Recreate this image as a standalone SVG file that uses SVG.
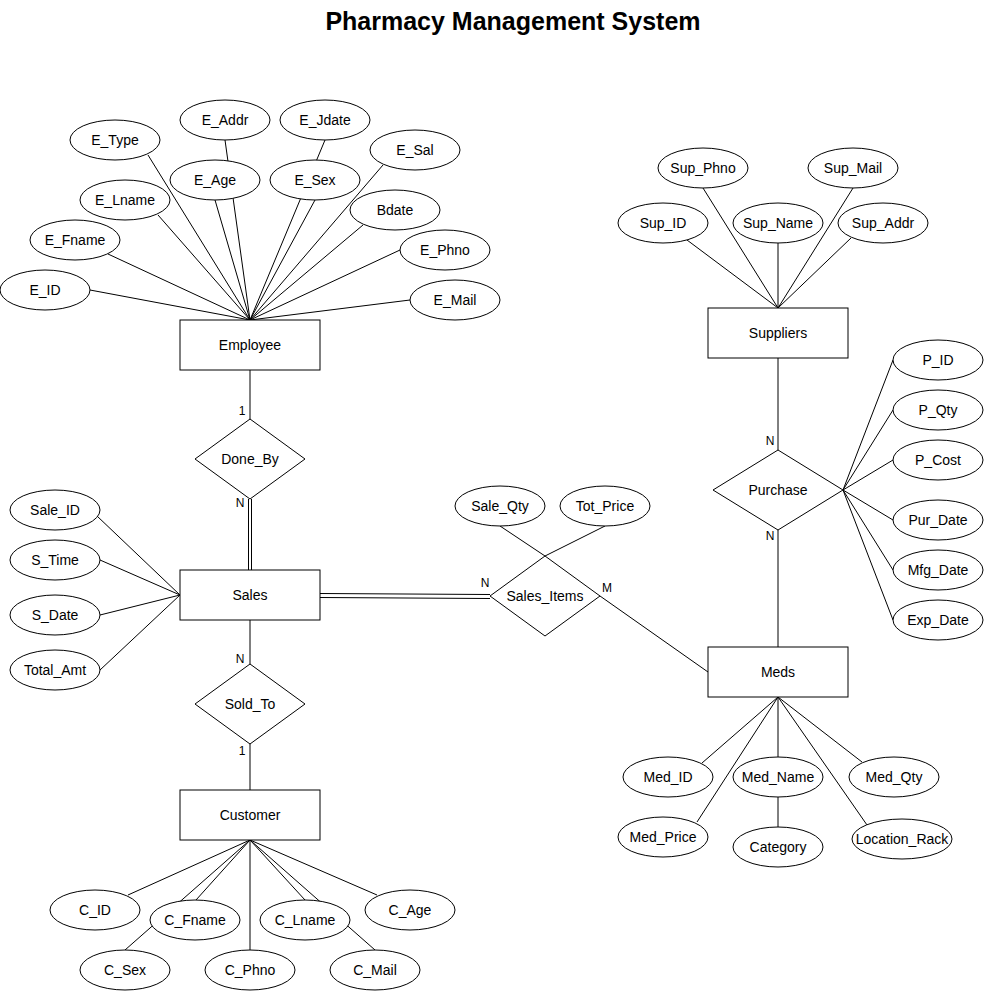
<svg xmlns="http://www.w3.org/2000/svg" width="984" height="991" viewBox="0 0 984 991">
<style>
text{font-family:"Liberation Sans",Arial,sans-serif;font-size:14px;fill:#000;text-anchor:middle}
.t{font-size:25px;font-weight:bold}
.c{font-size:12px}
.e,.r,.d{fill:#fff;stroke:#000;stroke-width:1}
#connectors line,#connectors polyline{stroke:#000;stroke-width:1;fill:none}
</style>
<rect width="984" height="991" fill="#fff"/>
<text class="t" x="513" y="30">Pharmacy Management System</text>
<g id="connectors">
<line x1="250" y1="320" x2="148" y2="155"/>
<line x1="250" y1="320" x2="225" y2="140"/>
<line x1="250" y1="320" x2="215" y2="200"/>
<line x1="250" y1="320" x2="325" y2="140"/>
<line x1="250" y1="320" x2="315" y2="200"/>
<line x1="250" y1="320" x2="383" y2="165"/>
<line x1="250" y1="320" x2="158" y2="215"/>
<line x1="250" y1="320" x2="363" y2="225"/>
<line x1="250" y1="320" x2="108" y2="254"/>
<line x1="250" y1="320" x2="400" y2="250"/>
<line x1="250" y1="320" x2="90" y2="290"/>
<line x1="250" y1="320" x2="410" y2="300"/>
<line x1="250" y1="370" x2="250" y2="419"/>
<line x1="248.5" y1="499" x2="248.5" y2="570"/>
<line x1="251.5" y1="499" x2="251.5" y2="570"/>
<line x1="180" y1="595" x2="97" y2="516"/>
<line x1="180" y1="595" x2="100" y2="560"/>
<line x1="180" y1="595" x2="100" y2="615"/>
<line x1="180" y1="595" x2="100" y2="670"/>
<line x1="320" y1="593.5" x2="490" y2="594.5"/>
<line x1="320" y1="597.5" x2="490" y2="598.5"/>
<line x1="500" y1="526" x2="545" y2="556"/>
<line x1="605" y1="526" x2="545" y2="556"/>
<line x1="600" y1="596" x2="708" y2="672"/>
<line x1="250" y1="620" x2="250" y2="664"/>
<line x1="250" y1="744" x2="250" y2="790"/>
<line x1="250" y1="840" x2="128" y2="895"/>
<line x1="250" y1="840" x2="196" y2="900"/>
<line x1="250" y1="840" x2="125" y2="950"/>
<line x1="250" y1="840" x2="250" y2="950"/>
<line x1="250" y1="840" x2="305" y2="900"/>
<line x1="250" y1="840" x2="375" y2="950"/>
<line x1="250" y1="840" x2="377" y2="895"/>
<line x1="778" y1="308" x2="687" y2="240"/>
<line x1="778" y1="308" x2="703" y2="188"/>
<line x1="778" y1="308" x2="778" y2="243"/>
<line x1="778" y1="308" x2="853" y2="188"/>
<line x1="778" y1="308" x2="851" y2="238"/>
<line x1="778" y1="358" x2="778" y2="450"/>
<line x1="778" y1="530" x2="778" y2="647"/>
<line x1="843" y1="490" x2="893" y2="360"/>
<line x1="843" y1="490" x2="893" y2="410"/>
<line x1="843" y1="490" x2="893" y2="460"/>
<line x1="843" y1="490" x2="893" y2="520"/>
<line x1="843" y1="490" x2="893" y2="570"/>
<line x1="843" y1="490" x2="893" y2="620"/>
<line x1="778" y1="697" x2="702" y2="763"/>
<line x1="778" y1="697" x2="697" y2="822"/>
<line x1="778" y1="697" x2="778" y2="827"/>
<line x1="778" y1="697" x2="862" y2="762"/>
<line x1="778" y1="697" x2="867" y2="825"/>
<text class="c" x="242" y="415">1</text>
<text class="c" x="240" y="507">N</text>
<text class="c" x="485" y="587">N</text>
<text class="c" x="607" y="592">M</text>
<text class="c" x="240" y="663">N</text>
<text class="c" x="242" y="755">1</text>
<text class="c" x="770" y="445">N</text>
<text class="c" x="770" y="540">N</text>
</g>
<g id="Employee"><rect class="r" x="180" y="320" width="140" height="50"/><text x="250" y="350">Employee</text></g>
<g id="E_Type"><ellipse class="e" cx="115" cy="140" rx="45" ry="20"/><text x="115" y="145">E_Type</text></g>
<g id="E_Addr"><ellipse class="e" cx="225" cy="120" rx="45" ry="20"/><text x="225" y="125">E_Addr</text></g>
<g id="E_Jdate"><ellipse class="e" cx="325" cy="120" rx="45" ry="20"/><text x="325" y="125">E_Jdate</text></g>
<g id="E_Sal"><ellipse class="e" cx="415" cy="150" rx="45" ry="20"/><text x="415" y="155">E_Sal</text></g>
<g id="E_Lname"><ellipse class="e" cx="125" cy="200" rx="45" ry="20"/><text x="125" y="205">E_Lname</text></g>
<g id="E_Age"><ellipse class="e" cx="215" cy="180" rx="45" ry="20"/><text x="215" y="185">E_Age</text></g>
<g id="E_Sex"><ellipse class="e" cx="315" cy="180" rx="45" ry="20"/><text x="315" y="185">E_Sex</text></g>
<g id="Bdate"><ellipse class="e" cx="395" cy="210" rx="45" ry="20"/><text x="395" y="215">Bdate</text></g>
<g id="E_Fname"><ellipse class="e" cx="75" cy="240" rx="45" ry="20"/><text x="75" y="245">E_Fname</text></g>
<g id="E_Phno"><ellipse class="e" cx="445" cy="250" rx="45" ry="20"/><text x="445" y="255">E_Phno</text></g>
<g id="E_ID"><ellipse class="e" cx="45" cy="290" rx="45" ry="20"/><text x="45" y="295">E_ID</text></g>
<g id="E_Mail"><ellipse class="e" cx="455" cy="300" rx="45" ry="20"/><text x="455" y="305">E_Mail</text></g>
<g id="Done_By"><polygon class="d" points="250,419 305,459 250,499 195,459"/><text x="250" y="464">Done_By</text></g>
<g id="Sales"><rect class="r" x="180" y="570" width="140" height="50"/><text x="250" y="600">Sales</text></g>
<g id="Sale_ID"><ellipse class="e" cx="55" cy="510" rx="45" ry="20"/><text x="55" y="515">Sale_ID</text></g>
<g id="S_Time"><ellipse class="e" cx="55" cy="560" rx="45" ry="20"/><text x="55" y="565">S_Time</text></g>
<g id="S_Date"><ellipse class="e" cx="55" cy="615" rx="45" ry="20"/><text x="55" y="620">S_Date</text></g>
<g id="Total_Amt"><ellipse class="e" cx="55" cy="670" rx="45" ry="20"/><text x="55" y="675">Total_Amt</text></g>
<g id="Sales_Items"><polygon class="d" points="545,556 600,596 545,636 490,596"/><text x="545" y="601">Sales_Items</text></g>
<g id="Sale_Qty"><ellipse class="e" cx="500" cy="506" rx="45" ry="20"/><text x="500" y="511">Sale_Qty</text></g>
<g id="Tot_Price"><ellipse class="e" cx="605" cy="506" rx="45" ry="20"/><text x="605" y="511">Tot_Price</text></g>
<g id="Sold_To"><polygon class="d" points="250,664 305,704 250,744 195,704"/><text x="250" y="709">Sold_To</text></g>
<g id="Customer"><rect class="r" x="180" y="790" width="140" height="50"/><text x="250" y="820">Customer</text></g>
<g id="C_ID"><ellipse class="e" cx="95" cy="910" rx="45" ry="20"/><text x="95" y="915">C_ID</text></g>
<g id="C_Fname"><ellipse class="e" cx="195" cy="920" rx="45" ry="20"/><text x="195" y="925">C_Fname</text></g>
<g id="C_Lname"><ellipse class="e" cx="305" cy="920" rx="45" ry="20"/><text x="305" y="925">C_Lname</text></g>
<g id="C_Age"><ellipse class="e" cx="410" cy="910" rx="45" ry="20"/><text x="410" y="915">C_Age</text></g>
<g id="C_Sex"><ellipse class="e" cx="125" cy="970" rx="45" ry="20"/><text x="125" y="975">C_Sex</text></g>
<g id="C_Phno"><ellipse class="e" cx="250" cy="970" rx="45" ry="20"/><text x="250" y="975">C_Phno</text></g>
<g id="C_Mail"><ellipse class="e" cx="375" cy="970" rx="45" ry="20"/><text x="375" y="975">C_Mail</text></g>
<g id="Suppliers"><rect class="r" x="708" y="308" width="140" height="50"/><text x="778" y="338">Suppliers</text></g>
<g id="Sup_Phno"><ellipse class="e" cx="703" cy="168" rx="45" ry="20"/><text x="703" y="173">Sup_Phno</text></g>
<g id="Sup_Mail"><ellipse class="e" cx="853" cy="168" rx="45" ry="20"/><text x="853" y="173">Sup_Mail</text></g>
<g id="Sup_ID"><ellipse class="e" cx="663" cy="223" rx="45" ry="20"/><text x="663" y="228">Sup_ID</text></g>
<g id="Sup_Name"><ellipse class="e" cx="778" cy="223" rx="45" ry="20"/><text x="778" y="228">Sup_Name</text></g>
<g id="Sup_Addr"><ellipse class="e" cx="883" cy="223" rx="45" ry="20"/><text x="883" y="228">Sup_Addr</text></g>
<g id="Purchase"><polygon class="d" points="778,450 843,490 778,530 713,490"/><text x="778" y="495">Purchase</text></g>
<g id="P_ID"><ellipse class="e" cx="938" cy="360" rx="45" ry="20"/><text x="938" y="365">P_ID</text></g>
<g id="P_Qty"><ellipse class="e" cx="938" cy="410" rx="45" ry="20"/><text x="938" y="415">P_Qty</text></g>
<g id="P_Cost"><ellipse class="e" cx="938" cy="460" rx="45" ry="20"/><text x="938" y="465">P_Cost</text></g>
<g id="Pur_Date"><ellipse class="e" cx="938" cy="520" rx="45" ry="20"/><text x="938" y="525">Pur_Date</text></g>
<g id="Mfg_Date"><ellipse class="e" cx="938" cy="570" rx="45" ry="20"/><text x="938" y="575">Mfg_Date</text></g>
<g id="Exp_Date"><ellipse class="e" cx="938" cy="620" rx="45" ry="20"/><text x="938" y="625">Exp_Date</text></g>
<g id="Meds"><rect class="r" x="708" y="647" width="140" height="50"/><text x="778" y="677">Meds</text></g>
<g id="Med_ID"><ellipse class="e" cx="668" cy="777" rx="45" ry="20"/><text x="668" y="782">Med_ID</text></g>
<g id="Med_Name"><ellipse class="e" cx="778" cy="777" rx="45" ry="20"/><text x="778" y="782">Med_Name</text></g>
<g id="Med_Qty"><ellipse class="e" cx="894" cy="777" rx="45" ry="20"/><text x="894" y="782">Med_Qty</text></g>
<g id="Med_Price"><ellipse class="e" cx="663" cy="837" rx="45" ry="20"/><text x="663" y="842">Med_Price</text></g>
<g id="Category"><ellipse class="e" cx="778" cy="847" rx="45" ry="20"/><text x="778" y="852">Category</text></g>
<g id="Location_Rack"><ellipse class="e" cx="902" cy="839" rx="50" ry="20"/><text x="902" y="844">Location_Rack</text></g>
</svg>
